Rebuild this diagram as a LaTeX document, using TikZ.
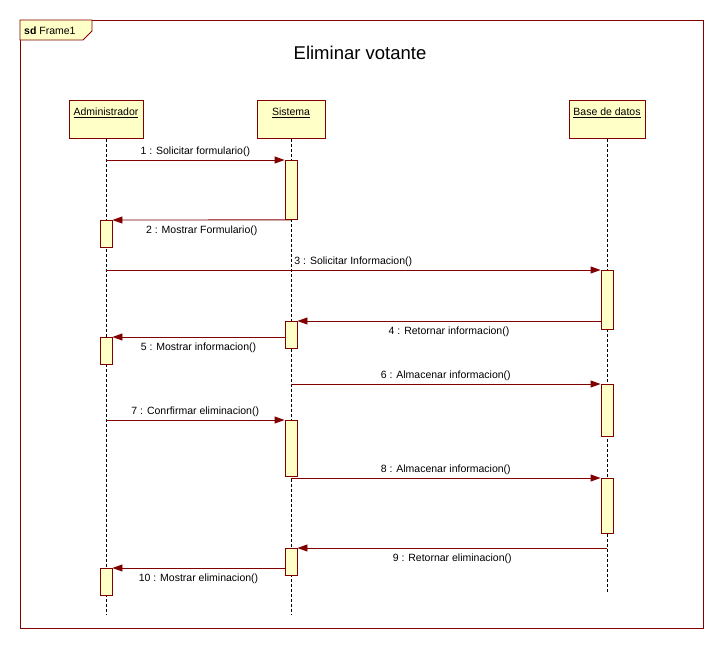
\documentclass[tikz,border=0pt]{standalone}
\usepackage{fontspec}
\setmainfont{Liberation Sans}
\usetikzlibrary{arrows.meta}
\definecolor{umlred}{HTML}{800000}
\definecolor{umlfill}{HTML}{FFFFC8}
\tikzset{
	lifehead/.style={draw=umlred, fill=umlfill, line width=.9pt, anchor=north, minimum height=38pt, inner xsep=2pt, inner ysep=4pt, text height=11pt, text depth=19pt, font=\fontsize{10.5}{12}\selectfont},
	lifeline/.style={dash pattern=on 3pt off 2pt, line width=.8pt},
	act/.style={draw=umlred, fill=umlfill, line width=.9pt, anchor=north, minimum width=12pt, inner sep=0pt},
	msg/.style={draw=umlred, line width=.9pt, -{Triangle[length=10pt,width=7pt]}},
	lbl/.style={font=\fontsize{10.5}{12}\selectfont, text=black}
}

\begin{document}
\begin{tikzpicture}[x=1pt, y=-1pt]
	\useasboundingbox (0,0) rectangle (723,648);
	% frame and title
	\draw[umlred, line width=.9pt] (20,20) rectangle (703,628);
	\draw[umlred, fill=umlfill, line width=.9pt] (20,20) -- (92,20) -- (92,31) -- (83,40) -- (20,40) -- cycle;
	\node[lbl, anchor=west, inner sep=0pt] (frm) at (24,30.5) {\textbf{sd} Frame1};
	\node[font=\fontsize{18.5}{22}\selectfont] (ttl) at (360,53) {Eliminar votante};
	% lifelines
	\node[lifehead, minimum width=74pt] (adm) at (106,100) {\underline{Administrador}};
	\node[lifehead, minimum width=68pt] (sis) at (291,100) {\underline{Sistema}};
	\node[lifehead, minimum width=76pt] (bd) at (607,100) {\underline{Base de datos}};
	\coordinate (admend) at (106,615);
	\coordinate (sisend) at (291,615);
	\coordinate (bdend) at (607,592);
	\draw[lifeline] (adm.south) -- (admend);
	\draw[lifeline] (sis.south) -- (sisend);
	\draw[lifeline] (bd.south) -- (bdend);
	% activations
	\node[act, minimum height=59pt] (s1) at (291,160) {};
	\node[act, minimum height=27pt] (ad1) at (106,220) {};
	\node[act, minimum height=59pt] (b1) at (607,270) {};
	\node[act, minimum height=26.5pt] (s2) at (291,321) {};
	\node[act, minimum height=26.5pt] (ad2) at (106,337) {};
	\node[act, minimum height=51.5pt] (b2) at (607,384) {};
	\node[act, minimum height=55.5pt] (s3) at (291,420) {};
	\node[act, minimum height=55pt] (b3) at (607,478) {};
	\node[act, minimum height=27pt] (s4) at (291,548) {};
	\node[act, minimum height=27pt] (ad3) at (106,568) {};
	% messages
	\draw[msg] (adm.south |- s1.north) -- (s1.north west) node[lbl, midway, above] {1 : Solicitar formulario()};
	\draw[msg] (s1.south) -- (ad1.north east) node[lbl, midway, below=2pt] {2 : Mostrar Formulario()};
	\draw[msg] (adm.south |- b1.north) -- (b1.north west) node[lbl, midway, above] {3 : Solicitar Informacion()};
	\draw[msg] (b1.west |- s2.north) -- (s2.north east) node[lbl, midway, below=2pt] {4 : Retornar informacion()};
	\draw[msg] (s2.west |- ad2.north) -- (ad2.north east) node[lbl, midway, below=2pt] {5 : Mostrar informacion()};
	\draw[msg] (sis.south |- b2.north) -- (b2.north west) node[lbl, midway, above] {6 : Almacenar informacion()};
	\draw[msg] (adm.south |- s3.north) -- (s3.north west) node[lbl, midway, above] {7 : Conrfirmar eliminacion()};
	\draw[msg] (sis.south |- b3.north) -- (b3.north west) node[lbl, midway, above] {8 : Almacenar informacion()};
	\draw[msg] (bd.south |- s4.north) -- (s4.north east) node[lbl, midway, below=2pt] {9 : Retornar eliminacion()};
	\draw[msg] (s4.west |- ad3.north) -- (ad3.north east) node[lbl, midway, below=2pt] {10 : Mostrar eliminacion()};
\end{tikzpicture}
\end{document}
